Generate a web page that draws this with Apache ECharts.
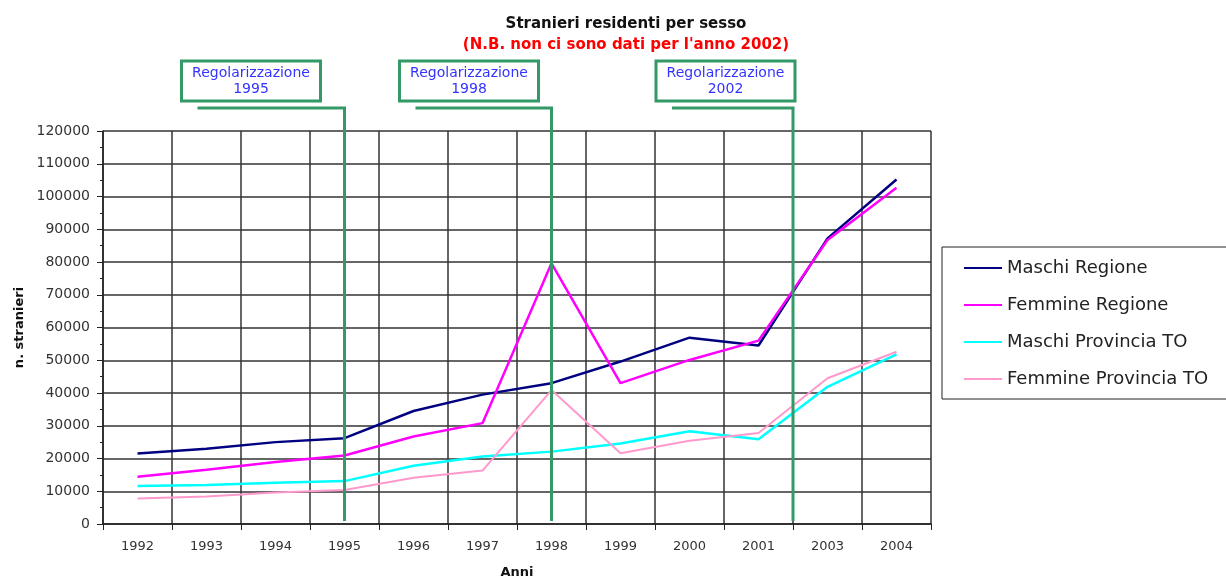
<!DOCTYPE html>
<html>
<head>
<meta charset="utf-8">
<script src="https://cdn.jsdelivr.net/npm/echarts@6/dist/echarts.min.js"></script>
<style>
html, body { margin: 0; padding: 0; background: #fff; }
#chart { width: 1226px; height: 577px; }
</style>
</head>
<body>
<div id="chart"></div>
<script>
const anni = ['1992', '1993', '1994', '1995', '1996', '1997', '1998', '1999', '2000', '2001', '2003', '2004']
const maschiRegione = [21500, 23000, 25000, 26200, 34500, 39500, 43000, 49600, 56900, 54500, 87200, 105200]
const femmineRegione = [14400, 16600, 18900, 20900, 26700, 30800, 79600, 43000, 50100, 56000, 86700, 102700]
const maschiProvincia = [11600, 11900, 12600, 13100, 17800, 20600, 22100, 24600, 28300, 25900, 41900, 51800]
const femmineProvincia = [7800, 8400, 9600, 10400, 14100, 16300, 40900, 21600, 25400, 27800, 44500, 52600]

// annotazioni regolarizzazione: anno di riferimento + spostamento del riquadro
const regolarizzazioni = [
    { label: 'Regolarizzazione\n1995', at: '1995', boxOffset: -163 },
    { label: 'Regolarizzazione\n1998', at: '1998', boxOffset: -152 },
    { label: 'Regolarizzazione\n2002', between: ['2001', '2003'], boxOffset: -137 }
]

const font = 'DejaVu Sans, Verdana, sans-serif'
const verde = '#339966'

const chart = echarts.init(document.getElementById('chart'))

const serie = (name, data, color, width) => ({
    name: name,
    type: 'line',
    data: data,
    symbol: 'none',
    lineStyle: { color: color, width: width },
    itemStyle: { color: color },
    z: 3
})

chart.setOption({
    animation: false,
    textStyle: { fontFamily: font },
    title: {
        text: 'Stranieri residenti per sesso',
        subtext: "(N.B. non ci sono dati per l'anno 2002)",
        left: 621,
        textAlign: 'center',
        top: 12,
        itemGap: 6,
        textStyle: { fontSize: 15, fontWeight: 'bold', color: '#111', fontFamily: font },
        subtextStyle: { fontSize: 15, fontWeight: 'bold', color: '#ff0000', fontFamily: font }
    },
    grid: { left: 103, right: 295, top: 131, bottom: 53, outerBoundsMode: 'none', containLabel: false },
    legend: {
        orient: 'vertical',
        left: 942,
        top: 247,
        padding: [12, 40, 11, 22],
        borderColor: '#222',
        borderWidth: 1,
        icon: 'rect',
        itemWidth: 38,
        itemHeight: 2,
        itemGap: 19,
        textStyle: { fontSize: 18, lineHeight: 18, color: '#222', fontFamily: font },
        data: ['Maschi Regione', 'Femmine Regione', 'Maschi Provincia TO', 'Femmine Provincia TO']
    },
    xAxis: {
        type: 'category',
        data: anni,
        boundaryGap: true,
        name: 'Anni',
        nameLocation: 'middle',
        nameGap: 42,
        nameTextStyle: { fontSize: 13, fontWeight: 'bold', color: '#111' },
        axisLine: { lineStyle: { color: '#222', width: 1.5 } },
        axisTick: { show: true, length: 6, lineStyle: { color: '#222' } },
        axisLabel: { fontSize: 13, color: '#333', margin: 16 },
        splitLine: { show: true, lineStyle: { color: '#333', width: 1.5 } }
    },
    yAxis: {
        type: 'value',
        min: 0,
        max: 120000,
        interval: 10000,
        name: 'n. stranieri',
        nameLocation: 'middle',
        nameGap: 76,
        nameTextStyle: { fontSize: 13, fontWeight: 'bold', color: '#111' },
        axisLine: { show: true, lineStyle: { color: '#222', width: 1.5 } },
        axisTick: { show: true, length: 6, lineStyle: { color: '#222' } },
        minorTick: { show: true, splitNumber: 2, length: 3, lineStyle: { color: '#222' } },
        axisLabel: { fontSize: 14, color: '#333', margin: 13, formatter: (v) => String(v) },
        splitLine: { show: true, lineStyle: { color: '#333', width: 1.5 } }
    },
    series: [
        serie('Maschi Regione', maschiRegione, '#000080', 2.5),
        serie('Femmine Regione', femmineRegione, '#ff00ff', 2.5),
        serie('Maschi Provincia TO', maschiProvincia, '#00ffff', 2.5),
        serie('Femmine Provincia TO', femmineProvincia, '#ff99cc', 2)
    ]
})

// linee verdi e riquadri delle regolarizzazioni
const graphics = []
const yTop = 108
const yBottom = chart.convertToPixel({ yAxisIndex: 0 }, 900)
regolarizzazioni.forEach((r) => {
    let x
    if (r.between) {
        const a = chart.convertToPixel({ xAxisIndex: 0 }, r.between[0])
        const b = chart.convertToPixel({ xAxisIndex: 0 }, r.between[1])
        x = (a + b) / 2
    } else {
        x = chart.convertToPixel({ xAxisIndex: 0 }, r.at)
    }
    const boxLeft = x + r.boxOffset
    graphics.push({
        type: 'polyline',
        shape: { points: [[boxLeft + 16, yTop], [x, yTop], [x, yBottom]] },
        style: { stroke: verde, lineWidth: 3, fill: null },
        z: 10
    })
    graphics.push({
        type: 'rect',
        shape: { x: boxLeft, y: 61, width: 139, height: 40 },
        style: { stroke: verde, lineWidth: 3, fill: '#fff' },
        z: 10
    })
    graphics.push({
        type: 'text',
        x: boxLeft + 69.5,
        y: 81,
        style: {
            text: r.label,
            fill: '#3333ff',
            font: '14px ' + font,
            align: 'center',
            verticalAlign: 'middle',
            lineHeight: 16
        },
        z: 11
    })
})
chart.setOption({ graphic: graphics })
</script>
</body>
</html>
